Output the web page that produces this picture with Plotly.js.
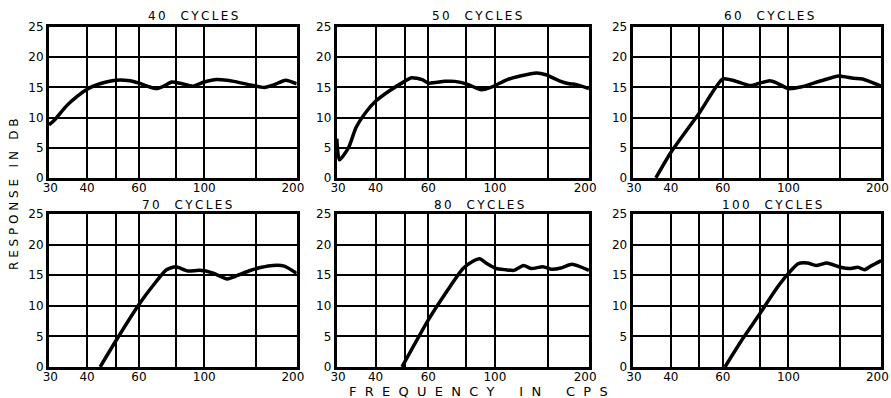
<!DOCTYPE html>
<html>
<head>
<meta charset="utf-8">
<script src="https://cdn.plot.ly/plotly-3.0.1.min.js"></script>
<style>html,body{margin:0;padding:0;background:#fff;}#chart{width:891px;height:398px;}</style>
</head>
<body>
<div id="chart"></div>
<script>
// Panel titles
const panelTitles = ["40  CYCLES", "50  CYCLES", "60  CYCLES", "70  CYCLES", "80  CYCLES", "100  CYCLES"];

// Frequency (cps) and response (dB) per panel
const f40 = [29.7, 31, 34, 37, 40, 44.2, 50, 55.9, 60, 65, 69, 72.7, 77.6, 84, 91.6, 100, 110.6, 126, 143.6, 159.7, 172, 189, 206];
const r40 = [8.8, 9.6, 11.9, 13.5, 14.7, 15.6, 16.2, 16.1, 15.7, 15.1, 14.8, 15.2, 15.9, 15.6, 15.2, 15.9, 16.3, 16.0, 15.4, 15.0, 15.4, 16.2, 15.6];

const f50 = [29.7, 30.3, 32.5, 34.4, 37.3, 40, 44.4, 50, 52.7, 57.2, 60, 68, 73.5, 81.2, 90, 96.9, 110, 121.5, 137.7, 148, 164, 177, 186, 206];
const r50 = [6.5, 3.0, 5.0, 8.3, 11.0, 12.7, 14.4, 16.0, 16.6, 16.3, 15.7, 16.0, 16.0, 15.5, 14.6, 15.0, 16.3, 16.9, 17.4, 17.1, 16.1, 15.6, 15.5, 14.8];

const f60 = [35.6, 40, 50, 60, 65.6, 74.1, 78.7, 86.5, 90.7, 100, 111, 129, 148, 166, 178, 206];
const r60 = [0, 4.2, 10.8, 16.4, 16.1, 15.3, 15.6, 16.1, 15.8, 14.8, 15.1, 16.1, 16.9, 16.5, 16.4, 15.2];

const f70 = [44.3, 50, 60, 67.2, 74.4, 80, 82.5, 88, 96.5, 106.6, 119.6, 127, 141.6, 156.6, 171, 187, 206];
const r70 = [0, 4.2, 10.2, 13.4, 15.9, 16.4, 16.2, 15.7, 15.8, 15.4, 14.4, 14.8, 15.7, 16.3, 16.6, 16.5, 15.3];

const f80 = [49, 60, 69, 78.3, 84.5, 89, 93.4, 101, 108.7, 116, 124.6, 132.5, 144.6, 154, 166, 181, 206];
const r80 = [0, 7.7, 12.3, 16.1, 17.3, 17.7, 17.0, 16.1, 15.9, 15.8, 16.6, 16.1, 16.4, 16.0, 16.2, 16.8, 15.8];

const f100 = [61, 70, 80, 90.4, 100, 108, 116, 124, 135, 150, 161, 172, 181, 190, 206];
const r100 = [0, 4.6, 8.7, 12.6, 15.3, 16.9, 17.0, 16.6, 17.0, 16.3, 16.1, 16.3, 15.9, 16.5, 17.4];

// Axis ticks
const xTickVals = [30, 40, 60, 100, 200];
const xTickText = ["30", "40", "60", "100", "200"];
const xGridVals = [40, 50, 60, 80, 100, 150];
const yTickVals = [0, 5, 10, 15, 20, 25];

const freqs = [f40, f50, f60, f70, f80, f100];
const resps = [r40, r50, r60, r70, r80, r100];

const xDomains = [[0.055, 0.333], [0.378, 0.661], [0.710, 0.989]];
const yDomains = [[0.553, 0.932], [0.078, 0.462]];
const titleX = [193, 477, 769, 187, 479, 772];
const titleY = [16, 16, 16, 205, 205, 205];

const FAM = "DejaVu Sans, sans-serif";
const traces = [];
const layout = {
  width: 891, height: 398,
  margin: {l: 0, r: 0, t: 0, b: 0},
  paper_bgcolor: "#fff", plot_bgcolor: "#fff",
  showlegend: false,
  font: {family: FAM, size: 12, color: "#000"},
  annotations: []
};

const thin = "\u2009";
for (let i = 0; i < 6; i++) {
  const n = i === 0 ? "" : String(i + 1);
  traces.push({
    x: freqs[i], y: resps[i], type: "scatter", mode: "lines",
    xaxis: "x" + n, yaxis: "y" + n,
    line: {color: "#000", width: 3.5, shape: "spline", smoothing: 0.6},
    hoverinfo: "skip"
  });
  const col = i % 3, row = Math.floor(i / 3);
  layout["xaxis" + n] = {
    type: "log", domain: xDomains[col], anchor: "y" + n,
    range: [Math.log10(29.7), Math.log10(206)],
    tickmode: "array", tickvals: xTickVals, ticktext: xTickText,
    showgrid: false, ticks: "", zeroline: false,
    showline: true, mirror: true, linecolor: "#000", linewidth: 3,
    tickfont: {family: FAM, size: 12, color: "#000"},
    ticklabelstandoff: -3,
    minor: {tickmode: "array", tickvals: xGridVals, showgrid: true, gridcolor: "#000", gridwidth: 2, ticks: ""},
    fixedrange: true
  };
  layout["yaxis" + n] = {
    domain: yDomains[row], anchor: "x" + n,
    range: [0, 25],
    tickmode: "array", tickvals: yTickVals,
    showgrid: true, gridcolor: "#000", gridwidth: 2, ticks: "", zeroline: false,
    showline: true, mirror: true, linecolor: "#000", linewidth: 3,
    tickfont: {family: FAM, size: 12, color: "#000"},
    fixedrange: true
  };
  layout.annotations.push({
    text: panelTitles[i].split("").join(thin), xref: "paper", yref: "paper",
    x: titleX[i] / 891, y: 1 - titleY[i] / 398,
    xanchor: "center", yanchor: "middle", showarrow: false,
    font: {family: FAM, size: 12, color: "#000"}
  });
}

const sp = "\u00a0";
function spaced(words, inner, outer) {
  return words.map(w => w.split("").join(sp.repeat(inner))).join(sp.repeat(outer));
}
layout.annotations.push({
  text: spaced(["RESPONSE", "IN", "DB"], 1, 3), xref: "paper", yref: "paper",
  x: 14 / 891, y: 1 - 194 / 398, textangle: -90,
  xanchor: "center", yanchor: "middle", showarrow: false,
  font: {family: FAM, size: 12, color: "#000"}
});
layout.annotations.push({
  text: spaced(["FREQUENCY", "IN", "CPS"], 2, 6), xref: "paper", yref: "paper",
  x: 478 / 891, y: 1 - 391 / 398,
  xanchor: "center", yanchor: "middle", showarrow: false,
  font: {family: FAM, size: 13, color: "#000"}
});

Plotly.newPlot("chart", traces, layout, {staticPlot: true, displayModeBar: false});
</script>
</body>
</html>
